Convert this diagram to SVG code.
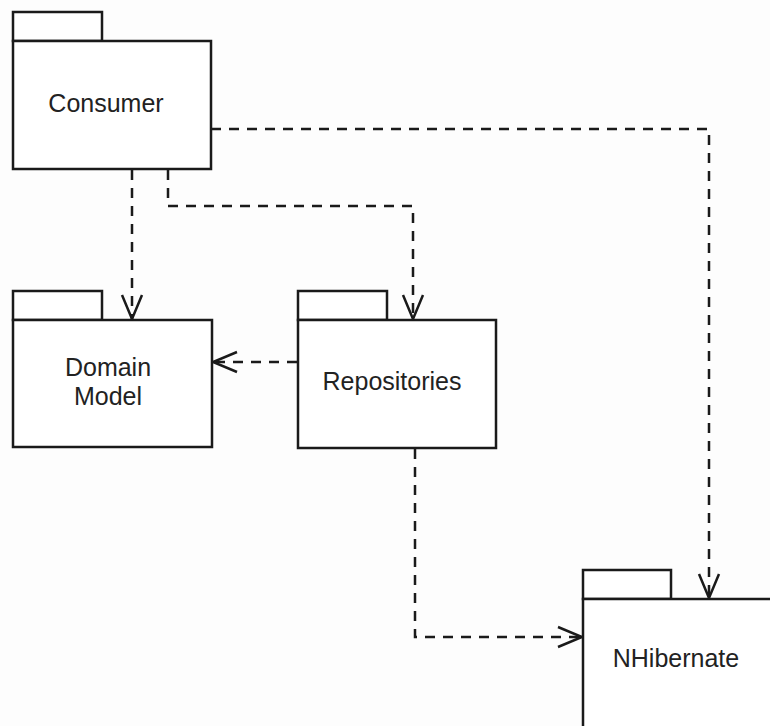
<svg xmlns="http://www.w3.org/2000/svg" width="770" height="726" viewBox="0 0 770 726">
  <style>
    .pkg { fill: #ffffff; stroke: #1a1a1a; stroke-width: 2.5; }
    .lbl { font-family: "Liberation Sans", Arial, Helvetica, sans-serif; font-size: 25px; fill: #222222; text-anchor: middle; }
    .dep { fill: none; stroke: #1a1a1a; stroke-width: 2.5; stroke-dasharray: 10 8; }
  </style>
  <defs>
    <marker id="open" viewBox="-26 -12 28 24" markerWidth="28" markerHeight="24" refX="0" refY="0" orient="auto" markerUnits="userSpaceOnUse">
      <path d="M-24,-10 L0,0 L-24,10" fill="none" stroke="#1a1a1a" stroke-width="2.5" stroke-dasharray="none"/>
    </marker>
  </defs>
  <rect width="770" height="726" fill="#fdfdfd"/>

  <g id="consumer">
    <rect class="pkg" x="13" y="12" width="89" height="29"/>
    <rect class="pkg" x="13" y="41" width="198" height="128"/>
    <text class="lbl" x="106" y="112">Consumer</text>
  </g>

  <g id="domain-model">
    <rect class="pkg" x="13" y="291" width="89" height="29"/>
    <rect class="pkg" x="13" y="320" width="199" height="127"/>
    <text class="lbl" x="108" y="376">Domain</text>
    <text class="lbl" x="108" y="405">Model</text>
  </g>

  <g id="repositories">
    <rect class="pkg" x="298" y="291" width="89" height="29"/>
    <rect class="pkg" x="298" y="320" width="198" height="128"/>
    <text class="lbl" x="392" y="390">Repositories</text>
  </g>

  <g id="nhibernate">
    <rect class="pkg" x="583" y="570" width="88" height="29"/>
    <rect class="pkg" x="583" y="599" width="200" height="140"/>
    <text class="lbl" x="676" y="667">NHibernate</text>
  </g>

  <g id="connectors">
    <path class="dep" d="M211,129 H709 V598" marker-end="url(#open)"/>
    <path class="dep" d="M132,170 V319" marker-end="url(#open)"/>
    <path class="dep" d="M168,170 V206 H413 V319" marker-end="url(#open)"/>
    <path class="dep" d="M297,362 H213" marker-end="url(#open)"/>
    <path class="dep" d="M415,449 V637 H582" marker-end="url(#open)"/>
  </g>
</svg>
